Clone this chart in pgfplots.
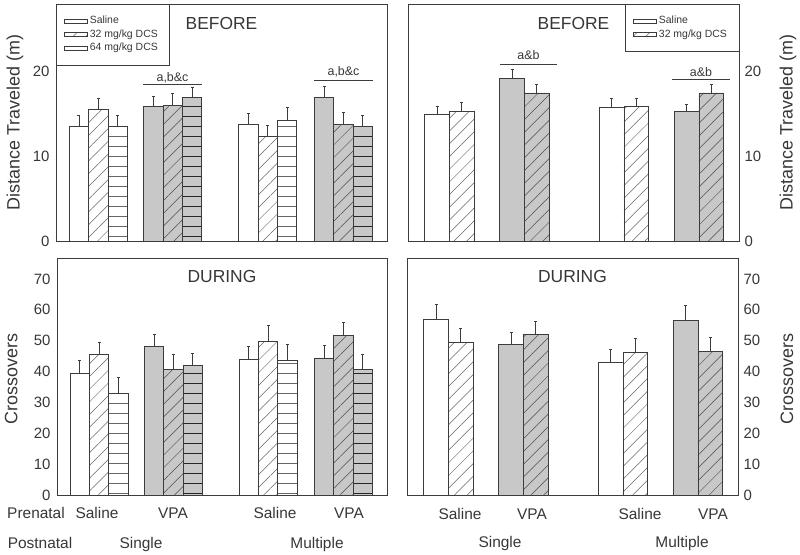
\documentclass[border=0pt]{standalone}
\usepackage{pgfplots}
\pgfplotsset{compat=1.18}
\usepackage{fontspec}
\setmainfont{Liberation Sans}
\usetikzlibrary{patterns,patterns.meta}
\definecolor{barGray}{RGB}{200,200,200}
\definecolor{txt}{RGB}{55,55,55}
\definecolor{edge}{RGB}{60,60,60}
\pgfdeclarepatternformonly{hlinesA}{\pgfqpoint{0bp}{0bp}}{\pgfqpoint{40bp}{9.5bp}}{\pgfqpoint{40bp}{9.5bp}}{%
  \pgfsetlinewidth{0.7bp}%
  \pgfpathmoveto{\pgfqpoint{-2bp}{4.75bp}}%
  \pgfpathlineto{\pgfqpoint{42bp}{4.75bp}}%
  \pgfusepath{stroke}%
}
\tikzset{
  wsal/.style={fill=white, draw=edge, line width=0.8bp},
  gsal/.style={fill=barGray, draw=edge, line width=0.8bp},
  wdiag/.style={draw=edge, line width=0.8bp, preaction={fill=white}, pattern={Lines[angle=45,distance=9bp,line width=0.5bp]}, pattern color=black!60},
  gdiag/.style={draw=edge, line width=0.8bp, preaction={fill=barGray}, pattern={Lines[angle=45,distance=9bp,line width=0.5bp]}, pattern color=black!70},
  whor/.style={draw=edge, line width=0.8bp, preaction={fill=white}, pattern=hlinesA, pattern color=black!60},
  ghor/.style={draw=edge, line width=0.8bp, preaction={fill=barGray}, pattern=hlinesA, pattern color=black!85},
}
\pgfplotsset{
  panel/.style={
    scale only axis, clip=false,
    xmin=0, xmax=331, ymin=0,
    ybar, bar shift=0pt,
    xtick=\empty,
    major tick length=0pt,
    axis line style={draw=edge, line width=0.9bp},
    /pgf/number format/assume math mode=true,
    tick label style={font=\fontsize{15}{17}\selectfont, text=txt},
    error bars/y dir=plus, error bars/y explicit,
    error bars/error bar style={line width=0.9bp, draw=edge},
    error bars/error mark options={rotate=90, mark size=1.5bp, line width=0.9bp, draw=edge},
    legend image code/.code={\draw[##1, line width=0.6bp] (0bp,-2bp) rectangle (23bp,2bp);},
    legend cell align=left,
  },
}
\newcommand{\ylab}{\fontsize{18}{20}\selectfont}
\newcommand{\ttl}{\fontsize{17.5}{20}\selectfont}
\newcommand{\sig}{\fontsize{12.5}{14}\selectfont}
\newcommand{\cat}{\fontsize{15.5}{18}\selectfont}
\newcommand{\leg}{\fontsize{10.5}{12}\selectfont}
\begin{document}
\begin{tikzpicture}
\useasboundingbox (0bp,0bp) rectangle (800bp,-555bp);
% ---------------- top left
\begin{axis}[panel,
  at={(56bp,-241.5bp)}, anchor=south west,
  width=331bp, height=237.5bp, ymax=27.9,
  bar width=19.3,
  ytick={0,10,20}, yticklabel style={xshift=-3bp},
  ylabel={Distance Traveled (m)},
  every axis y label/.style={at={(axis description cs:-0.124,0.5)}, rotate=90, anchor=center, font=\ylab, text=txt},
  legend style={draw=none, fill=none, at={(rel axis cs:0,1)}, anchor=north west, xshift=8bp, yshift=-11bp,
    font=\leg, text=txt, inner sep=0pt, row sep=2bp, column sep=1bp,
    nodes={inner sep=1bp, text depth=2bp, text height=7.5bp}},
]
\addplot[wsal] coordinates {(23,13.5) +- (0,1.3) (192.5,13.75) +- (0,1.25)};
\addplot[wdiag] coordinates {(42.3,15.55) +- (0,1.25) (211.8,12.4) +- (0,1.25)};
\addplot[whor] coordinates {(61.6,13.5) +- (0,1.3) (231.1,14.2) +- (0,1.55)};
\addplot[gsal, forget plot] coordinates {(97.5,15.9) +- (0,1.1) (268,16.95) +- (0,1.25)};
\addplot[gdiag, forget plot] coordinates {(116.8,15.95) +- (0,1.45) (287.3,13.8) +- (0,1.4)};
\addplot[ghor, forget plot] coordinates {(136.1,16.9) +- (0,1.2) (306.6,13.5) +- (0,1.35)};
\legend{Saline, 32 mg/kg DCS, 64 mg/kg DCS}
\draw[edge, line width=0.9bp] (rel axis cs:0,1) rectangle (rel axis cs:0.344,0.743);
\node[font=\ttl, text=txt] at (axis description cs:0.5,0.92) {BEFORE};
\draw[edge, line width=0.9bp] (axis cs:87,18.45) -- (axis cs:146,18.45);
\node[font=\sig, text=txt, anchor=base] at (axis cs:116.5,18.85) {a,b\&c};
\draw[edge, line width=0.9bp] (axis cs:258,18.9) -- (axis cs:317,18.9);
\node[font=\sig, text=txt, anchor=base] at (axis cs:287.5,19.47) {a,b\&c};
\end{axis}
% ---------------- top right
\begin{axis}[panel,
  at={(408bp,-241.5bp)}, anchor=south west,
  width=331bp, height=237.5bp, ymax=27.9,
  bar width=24.8,
  ytick={0,10,20}, yticklabel pos=right, yticklabel style={xshift=2bp},
  ylabel={Distance Traveled (m)},
  every axis y label/.style={at={(axis description cs:1.148,0.5)}, rotate=90, anchor=center, font=\ylab, text=txt},
  legend style={draw=none, fill=none, at={(rel axis cs:0.656,1)}, anchor=north west, xshift=8bp, yshift=-11bp,
    font=\leg, text=txt, inner sep=0pt, row sep=2bp, column sep=1bp,
    nodes={inner sep=1bp, text depth=2bp, text height=7.5bp}},
]
\addplot[wsal] coordinates {(29,14.9) +- (0,1.0) (203.5,15.75) +- (0,1.05)};
\addplot[wdiag] coordinates {(53.8,15.3) +- (0,1.0) (228.3,15.9) +- (0,0.95)};
\addplot[gsal, forget plot] coordinates {(104,19.2) +- (0,1.0) (278.5,15.3) +- (0,0.85)};
\addplot[gdiag, forget plot] coordinates {(128.8,17.45) +- (0,0.95) (303.3,17.45) +- (0,0.95)};
\legend{Saline, 32 mg/kg DCS}
\draw[edge, line width=0.9bp] (rel axis cs:0.656,1) rectangle (rel axis cs:1,0.802);
\node[font=\ttl, text=txt] at (axis description cs:0.5,0.92) {BEFORE};
\draw[edge, line width=0.9bp] (axis cs:92,20.8) -- (axis cs:149,20.8);
\node[font=\sig, text=txt, anchor=base] at (axis cs:120.5,21.4) {a\&b};
\draw[edge, line width=0.9bp] (axis cs:264,19.0) -- (axis cs:322,19.0);
\node[font=\sig, text=txt, anchor=base] at (axis cs:293,19.4) {a\&b};
\end{axis}
% ---------------- bottom left
\begin{axis}[panel,
  at={(57bp,-495bp)}, anchor=south west,
  width=330bp, height=237bp, ymax=76.8,
  bar width=19.3,
  ytick={0,10,...,70}, yticklabel style={xshift=-3bp},
  ylabel={Crossovers},
  every axis y label/.style={at={(axis description cs:-0.139,0.49)}, rotate=90, anchor=center, font=\ylab, text=txt},
]
\addplot[wsal] coordinates {(23,39.5) +- (0,4.0) (192.5,44.1) +- (0,4.0)};
\addplot[wdiag] coordinates {(42.3,45.7) +- (0,3.7) (211.8,49.7) +- (0,5.4)};
\addplot[whor] coordinates {(61.6,33.0) +- (0,5.1) (231.1,43.6) +- (0,5.1)};
\addplot[gsal] coordinates {(97.5,48.1) +- (0,4.0) (268,44.4) +- (0,4.1)};
\addplot[gdiag] coordinates {(116.8,40.8) +- (0,4.6) (287.3,51.7) +- (0,4.2)};
\addplot[ghor] coordinates {(136.1,42.0) +- (0,4.0) (306.6,40.8) +- (0,4.6)};
\node[font=\ttl, text=txt] at (axis description cs:0.5,0.92) {DURING};
\end{axis}
% ---------------- bottom right
\begin{axis}[panel,
  at={(407bp,-495bp)}, anchor=south west,
  width=331bp, height=237bp, ymax=76.8,
  bar width=24.8,
  ytick={0,10,...,70}, yticklabel pos=right, yticklabel style={xshift=2bp},
  ylabel={Crossovers},
  every axis y label/.style={at={(axis description cs:1.148,0.49)}, rotate=90, anchor=center, font=\ylab, text=txt},
]
\addplot[wsal] coordinates {(29,57.0) +- (0,4.7) (203.5,42.95) +- (0,4.35)};
\addplot[wdiag] coordinates {(53.8,49.3) +- (0,4.6) (228.3,46.3) +- (0,4.5)};
\addplot[gsal] coordinates {(104,48.8) +- (0,3.9) (278.5,56.6) +- (0,4.7)};
\addplot[gdiag] coordinates {(128.8,52.1) +- (0,4.2) (303.3,46.6) +- (0,4.6)};
\node[font=\ttl, text=txt] at (axis description cs:0.5,0.92) {DURING};
\end{axis}
% ---------------- category labels
\begin{scope}[every node/.style={font=\cat, text=txt, anchor=base}]
\node at (36bp,-518bp) {Prenatal};
\node at (97bp,-518bp) {Saline};
\node at (173bp,-518bp) {VPA};
\node at (275bp,-518bp) {Saline};
\node at (349bp,-518bp) {VPA};
\node at (40bp,-548bp) {Postnatal};
\node at (141bp,-548bp) {Single};
\node at (317bp,-548bp) {Multiple};
\node at (460bp,-519bp) {Saline};
\node at (532bp,-519bp) {VPA};
\node at (640bp,-519bp) {Saline};
\node at (713bp,-519bp) {VPA};
\node at (500bp,-547bp) {Single};
\node at (682bp,-547bp) {Multiple};
\end{scope}
\end{tikzpicture}
\end{document}
